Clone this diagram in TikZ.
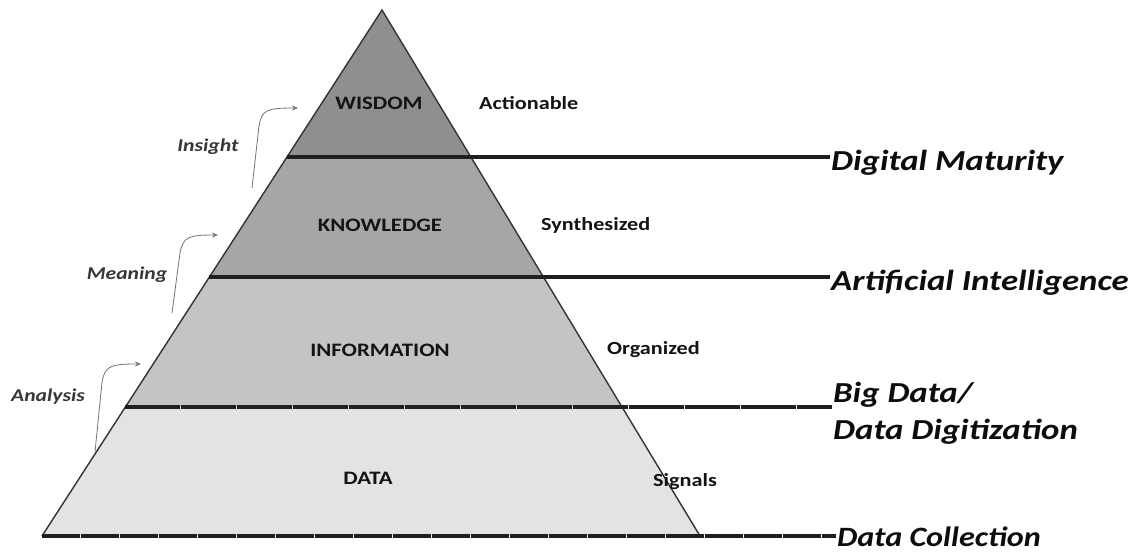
\documentclass[tikz,border=0pt]{standalone}
\usepackage{fontspec}
\setmainfont{Carlito}
\usepackage{graphicx}
\usetikzlibrary{arrows.meta}
\newcommand{\widetxt}[1]{\scalebox{1.2}[1]{#1}}
\tikzset{
  lvl/.style={font=\bfseries\fontsize{19}{19}\selectfont, text=black!92, inner sep=1pt},
  side/.style={font=\bfseries\fontsize{18.5}{18.5}\selectfont, text=black!92, inner sep=1pt},
  proc/.style={font=\bfseries\itshape\fontsize{18}{18}\selectfont, text=black!78, inner sep=1pt},
  stage/.style={font=\bfseries\itshape\fontsize{29}{32}\selectfont, text=black!95, anchor=west, inner sep=1pt, align=left},
  divider/.style={line width=4pt, black!88},
  edge/.style={line width=1.4pt, black!80},
  bendarrow/.style={black!55, line width=0.8pt, -{Stealth[length=6pt,width=5pt]}},
}
\begin{document}
\begin{tikzpicture}[x=1pt,y=-1pt]
\useasboundingbox (0,0) rectangle (1140,555);
\fill[white] (0,0) rectangle (1140,555);
% pyramid corners
\coordinate (apex) at (382,10);
\coordinate (bl) at (42,536);
\coordinate (br) at (700,536);
% band fills
\begin{scope}
  \clip (apex) -- (bl) -- (br) -- cycle;
  \fill[black!44] (0,0) rectangle (1140,157);
  \fill[black!35] (0,157) rectangle (1140,277);
  \fill[black!23] (0,277) rectangle (1140,407);
  \fill[blue!4!black!11] (0,407) rectangle (1140,540);
\end{scope}
\draw[edge] (bl) -- (apex) -- (br);
% divider left ends (on the pyramid's left edge)
\path (apex) -- (bl) coordinate[pos=0.2795] (d1) coordinate[pos=0.5076] (d2) coordinate[pos=0.7548] (d3);
% stage labels
\node[stage] (dm) at (830,163) {\widetxt{Digital Maturity}};
\node[stage] (ai) at (830,283) {\widetxt{Artificial Intelligence}};
\node[stage] (bd) at (832,413) {\widetxt{Big Data/}\\[5pt]\widetxt{Data Digitization}};
\node[stage, font=\bfseries\itshape\fontsize{28}{30}\selectfont] (dc) at (836,537) {\scalebox{1.15}[1]{Data Collection}};
\draw[divider] (d1) -- (d1 -| dm.west);
\draw[divider] (d2) -- (d2 -| ai.west);
\draw[divider, dash pattern=on 55pt off 1pt] (d3) -- (d3 -| bd.west);
\draw[divider, dash pattern=on 38pt off 1pt] (bl) -- (bl -| dc.west);
% level labels
\node[lvl] (wis) at (379,103) {\widetxt{WISDOM}};
\node[lvl] (kno) at (380,225) {\widetxt{KNOWLEDGE}};
\node[lvl] (inf) at (380,350) {\widetxt{INFORMATION}};
\node[lvl] (dat) at (368,478) {\widetxt{DATA}};
\node[side, anchor=west] (act) at (478,103) {\widetxt{Actionable}};
\node[side, anchor=west] (syn) at (540,225) {\widetxt{Synthesized}};
\node[side, anchor=west] (org) at (606,350) {\widetxt{Organized}};
\node[side, anchor=west] (sig) at (652,482) {\widetxt{Signals}};
% process labels and arrows
\node[proc] (ins) at (208,147) {\widetxt{Insight}};
\node[proc] (mea) at (127,275) {\widetxt{Meaning}};
\node[proc] (ana) at (48,397) {\widetxt{Analysis}};
\coordinate (insS) at (252,188);
\coordinate (insE) at (298,108);
\coordinate (meaS) at (172,313);
\coordinate (meaE) at (218,235);
\coordinate (anaS) at (95,452);
\coordinate (anaE) at (141,364);
\draw[bendarrow] (insS) -- (259,126) .. controls (262,110) and (266,108) .. (insE);
\draw[bendarrow] (meaS) -- (180,253) .. controls (183,237) and (188,235) .. (meaE);
\draw[bendarrow] (anaS) -- (102,382) .. controls (105,366) and (110,364) .. (anaE);
\end{tikzpicture}
\end{document}
